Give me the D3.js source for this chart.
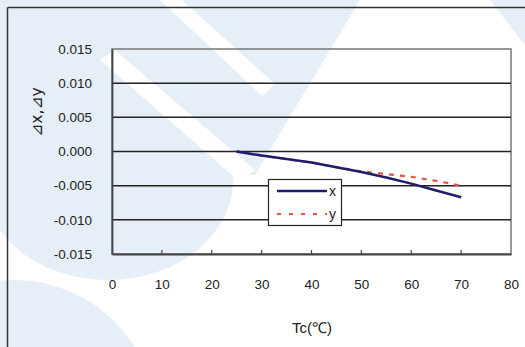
<!DOCTYPE html>
<html><head><meta charset="utf-8">
<script src="https://cdn.jsdelivr.net/npm/d3@7"></script>
<style>html,body{margin:0;padding:0;background:#fff;}svg{display:block;}</style>
</head><body>
<svg id="c" width="525" height="347"></svg>
<script>
// ---- data ----
const temps = [25, 30, 35, 40, 45, 50, 55, 60, 65, 70];
const dx = [0.0000, -0.0006, -0.0011, -0.0016, -0.0023, -0.0030, -0.0038, -0.0047, -0.0057, -0.0067];
const dy = [0.0000, -0.0006, -0.0011, -0.0016, -0.0023, -0.0029, -0.0033, -0.0037, -0.0043, -0.0050];
const seriesNames = ["x", "y"];
const yTicks = [-0.015, -0.010, -0.005, 0.000, 0.005, 0.010, 0.015];
const yTickLabels = ["-0.015", "-0.010", "-0.005", "0.000", "0.005", "0.010", "0.015"];
const xTicks = [0, 10, 20, 30, 40, 50, 60, 70, 80];
const xTickLabels = ["0", "10", "20", "30", "40", "50", "60", "70", "80"];
const xTitle = "Tc(℃)";
const yTitle = "⊿x,⊿y";

const svg = d3.select("#c");
const W = 525, H = 347;
const L = 112, R = 511, T = 49, B = 254;
const x = d3.scaleLinear().domain([0, 80]).range([L, R]);
const y = d3.scaleLinear().domain([-0.015, 0.015]).range([B, T]);

// ---- watermark background ----
const wm = svg.append("g");
const blue = "#e6eef7";
wm.append("path").attr("d", "M0,0 L360,0 L255,175 L0,175 Z").attr("fill", blue);
wm.append("ellipse").attr("cx", 108).attr("cy", 180).attr("rx", 125).attr("ry", 100).attr("fill", blue);
wm.append("circle").attr("cx", 15).attr("cy", 420).attr("r", 140).attr("fill", blue);
wm.append("path").attr("d", "M490,0 L525,0 L525,45 Z").attr("fill", blue);
// white stripes of the logo
wm.append("path").attr("d", "M160,0 L182,0 L275,84 L262,96 Z").attr("fill", "#fff");
wm.append("path").attr("d", "M100,60 L115,50 L255,170 L240,182 Z").attr("fill", "#fff");

// ---- outer frame ----
svg.append("line").attr("x1", 7.5).attr("y1", 7.5).attr("x2", 7.5).attr("y2", H).attr("stroke", "#333").attr("stroke-width", 1.5);
svg.append("line").attr("x1", 7.5).attr("y1", 7.5).attr("x2", W).attr("y2", 7.5).attr("stroke", "#333").attr("stroke-width", 1.5);

// ---- plot border ----
svg.append("rect").attr("x", L).attr("y", T).attr("width", R - L).attr("height", B - T)
  .attr("fill", "none").attr("stroke", "#777").attr("stroke-width", 1.5);

// gridlines
svg.append("g").selectAll("line").data(yTicks.slice(1, -1)).join("line")
  .attr("x1", L).attr("x2", R).attr("y1", d => y(d)).attr("y2", d => y(d))
  .attr("stroke", "#222").attr("stroke-width", 1.5);

// y axis
const yAxis = svg.append("g").attr("transform", `translate(${L},0)`)
  .call(d3.axisLeft(y).tickValues(yTicks).tickSize(0).tickPadding(20)
    .tickFormat((d, i) => yTickLabels[i]));
yAxis.select(".domain").attr("stroke", "#444").attr("stroke-width", 1.8);
yAxis.selectAll("text").attr("font-family", "Liberation Sans, Arial, sans-serif")
  .attr("font-size", 13.5).attr("fill", "#222");

// x axis
const xAxis = svg.append("g").attr("transform", `translate(0,${B})`)
  .call(d3.axisBottom(x).tickValues(xTicks).tickSize(0).tickPadding(25)
    .tickFormat((d, i) => xTickLabels[i]));
xAxis.select(".domain").attr("stroke", "#444").attr("stroke-width", 1.8);
xAxis.selectAll("text").attr("font-family", "Liberation Sans, Arial, sans-serif")
  .attr("font-size", 13.5).attr("fill", "#222");
// inside tick marks
svg.append("g").selectAll("line").data(xTicks.slice(1, -1)).join("line")
  .attr("x1", d => x(d)).attr("x2", d => x(d)).attr("y1", B).attr("y2", B - 4)
  .attr("stroke", "#444").attr("stroke-width", 1.2);

// titles
svg.append("text").attr("x", 312).attr("y", 333).attr("text-anchor", "middle")
  .attr("font-family", "Liberation Sans, Arial, sans-serif").attr("font-size", 15).attr("fill", "#222")
  .text(xTitle);
svg.append("text").attr("transform", "translate(42,112) rotate(-90)").attr("text-anchor", "middle")
  .attr("font-family", "DejaVu Sans, sans-serif").attr("font-size", 15.5).attr("fill", "#222")
  .text(yTitle);

// ---- series ----
const line = d3.line().x(d => x(d[0])).y(d => y(d[1]));
const colors = ["#1d1d6b", "#e2553f"];
svg.append("path").datum(temps.map((t, i) => [t, dy[i]])).attr("d", line)
  .attr("fill", "none").attr("stroke", colors[1]).attr("stroke-width", 2.2).attr("stroke-dasharray", "5,6");
svg.append("path").datum(temps.map((t, i) => [t, dx[i]])).attr("d", line)
  .attr("fill", "none").attr("stroke", colors[0]).attr("stroke-width", 2.5);

// ---- legend ----
const lg = svg.append("g");
lg.append("rect").attr("x", 268.5).attr("y", 179.5).attr("width", 73).attr("height", 46)
  .attr("fill", "#fff").attr("stroke", "#222").attr("stroke-width", 1.2);
seriesNames.forEach((n, i) => {
  const yy = 191 + i * 23;
  lg.append("line").attr("x1", 277).attr("x2", 327).attr("y1", yy).attr("y2", yy)
    .attr("stroke", colors[i]).attr("stroke-width", i ? 2.2 : 2.5)
    .attr("stroke-dasharray", i ? "4,8" : null);
  lg.append("text").attr("x", 329).attr("y", yy + 5).attr("font-family", "Liberation Sans, Arial, sans-serif")
    .attr("font-size", 14).attr("fill", "#222").text(n);
});
</script>
</body></html>
